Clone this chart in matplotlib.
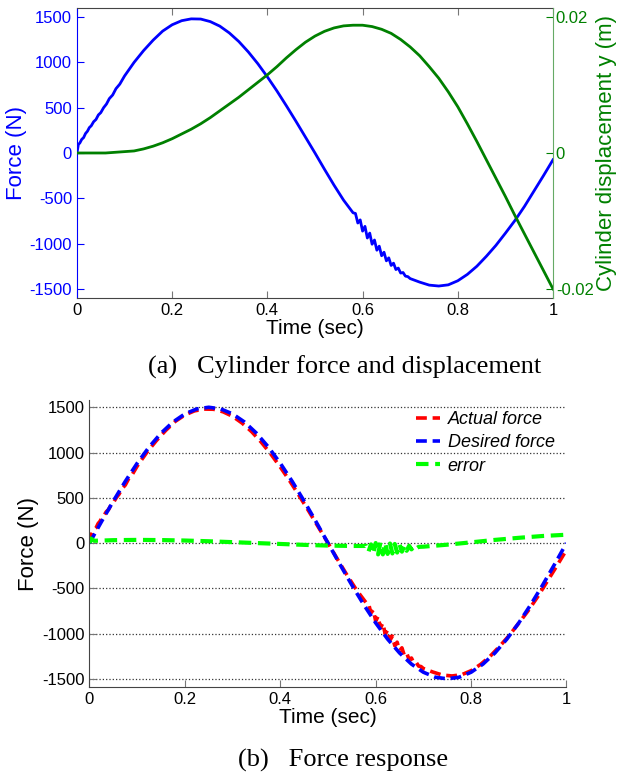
import numpy as np
import matplotlib.pyplot as plt

plt.rcParams['font.family'] = ['Liberation Sans', 'DejaVu Sans']
plt.rcParams['axes.unicode_minus'] = False

# cylinder force (actual force), N
force_t = [0.000, 0.003, 0.006, 0.010, 0.014, 0.018, 0.022, 0.026, 0.030, 0.035,
           0.040, 0.045, 0.050, 0.056, 0.062, 0.068, 0.075, 0.082, 0.090, 0.100,
           0.12, 0.14, 0.16, 0.18, 0.20, 0.22, 0.24, 0.26, 0.28, 0.30,
           0.32, 0.34, 0.36, 0.38, 0.40, 0.42, 0.44, 0.46, 0.48, 0.50,
           0.52, 0.54, 0.56, 0.580, 0.585, 0.590, 0.595, 0.600, 0.605, 0.610,
           0.615, 0.620, 0.625, 0.630, 0.635, 0.640, 0.645, 0.650, 0.655, 0.660,
           0.665, 0.670, 0.675, 0.680, 0.685, 0.690, 0.695, 0.700, 0.72, 0.74,
           0.76, 0.78, 0.80, 0.82, 0.84, 0.86, 0.88, 0.90, 0.92, 0.94,
           0.96, 0.98, 1.00]
force_n = [0, 95, 110, 150, 170, 215, 240, 280, 300, 345,
           370, 420, 445, 500, 540, 600, 640, 710, 760, 850,
           1000, 1130, 1245, 1345, 1415, 1460, 1480, 1478, 1450, 1400,
           1325, 1230, 1115, 985, 840, 685, 520, 350, 175, 0,
           -180, -355, -520, -660, -667, -773, -738, -862, -810, -938,
           -884, -1007, -960, -1073, -1028, -1134, -1095, -1190, -1157, -1241,
           -1216, -1286, -1270, -1325, -1319, -1359, -1364, -1386, -1425, -1458,
           -1468, -1455, -1410, -1340, -1250, -1140, -1020, -885, -745, -590,
           -420, -250, -75]

# cylinder displacement, m
disp_t = [0.00, 0.04, 0.06, 0.08, 0.10, 0.12, 0.14, 0.16, 0.18, 0.20,
          0.22, 0.24, 0.26, 0.28, 0.30, 0.32, 0.34, 0.36, 0.38, 0.40,
          0.42, 0.44, 0.46, 0.48, 0.50, 0.52, 0.54, 0.56, 0.58, 0.60,
          0.62, 0.64, 0.66, 0.68, 0.70, 0.72, 0.74, 0.76, 0.78, 0.80,
          0.82, 0.84, 0.86, 0.88, 0.90, 0.92, 0.94, 0.96, 0.98, 1.00]
disp_m = [0.0, 0.0, 0.0, 0.0001, 0.0002, 0.0003, 0.0006, 0.0010, 0.0015, 0.0021,
          0.0028, 0.0035, 0.0043, 0.0052, 0.0062, 0.0072, 0.0082, 0.0093, 0.0104, 0.0115,
          0.0127, 0.0140, 0.0152, 0.0163, 0.0172, 0.0179, 0.0184, 0.0187, 0.0188, 0.0188,
          0.0186, 0.0182, 0.0176, 0.0167, 0.0156, 0.0143, 0.0127, 0.0110, 0.0090, 0.0068,
          0.0043, 0.0017, -0.0010, -0.0037, -0.0064, -0.0092, -0.0119, -0.0146, -0.0173, -0.0200]

# desired force, N
desired_t = [0.000, 0.025, 0.050, 0.075, 0.100, 0.125, 0.150, 0.175, 0.200, 0.225,
             0.250, 0.275, 0.300, 0.325, 0.350, 0.375, 0.400, 0.425, 0.450, 0.475,
             0.500, 0.525, 0.550, 0.575, 0.600, 0.625, 0.650, 0.675, 0.700, 0.725,
             0.750, 0.775, 0.800, 0.825, 0.850, 0.875, 0.900, 0.925, 0.950, 0.975,
             1.000]
desired_n = [0, 235, 464, 681, 882, 1061, 1214, 1337, 1427, 1482,
             1500, 1482, 1427, 1337, 1214, 1061, 882, 681, 464, 235,
             0, -235, -464, -681, -882, -1061, -1214, -1337, -1427, -1482,
             -1500, -1482, -1427, -1337, -1214, -1061, -882, -681, -464, -235,
             0]

# tracking error, N
error_t = [0.000, 0.003, 0.010, 0.05, 0.10, 0.15, 0.20, 0.25, 0.30, 0.35,
           0.40, 0.45, 0.50, 0.55, 0.575, 0.580, 0.585, 0.590, 0.595, 0.600,
           0.605, 0.610, 0.615, 0.620, 0.625, 0.630, 0.635, 0.640, 0.645, 0.650,
           0.655, 0.660, 0.665, 0.670, 0.675, 0.680, 0.685, 0.690, 0.70, 0.75,
           0.80, 0.85, 0.90, 0.95, 1.00]
error_n = [0, 50, 25, 32, 35, 33, 28, 20, 10, 0,
           -10, -20, -28, -32, -32, -30, -95, -15, -115, 0,
           -125, 5, -125, 0, -120, -5, -115, -10, -105, -15,
           -95, -25, -85, -30, -70, -35, -60, -42, -40, -18,
           8, 35, 58, 78, 92]

x_ticks = [0, 0.2, 0.4, 0.6, 0.8, 1]
x_labels = ['0', '0.2', '0.4', '0.6', '0.8', '1']
force_ticks = [-1500, -1000, -500, 0, 500, 1000, 1500]
disp_ticks = [-0.02, 0, 0.02]
disp_labels = ['-0.02', '0', '0.02']

BLUE = '#0000ff'
DGREEN = '#008000'
SPINE = '#444444'
DASH = (0, (3, 1.6))

fig = plt.figure(figsize=(6.36, 7.76), dpi=100)

# (a) force and displacement
ax1 = fig.add_axes([0.121, 0.616, 0.7485, 0.3737])
ax1.plot(force_t, force_n, color=BLUE, lw=2)
ax1.set_xlim(0, 1)
ax1.set_ylim(-1600, 1600)
ax1.set_xticks(x_ticks)
ax1.set_xticklabels(x_labels)
ax1.set_yticks(force_ticks)
ax1.tick_params(axis='x', direction='in', top=True, length=5, color='#777777',
                labelsize=12, labelcolor='black')
ax1.tick_params(axis='y', direction='in', right=True, length=5, color=BLUE,
                labelsize=12, labelcolor=BLUE)
ax1.set_xlabel('Time (sec)', fontsize=15, labelpad=1)
ax1.set_ylabel('Force (N)', fontsize=16, color=BLUE, labelpad=2)
ax1.spines['left'].set_color(BLUE)
ax1.spines['right'].set_visible(False)
ax1.spines['top'].set_color(SPINE)
ax1.spines['bottom'].set_color(SPINE)

ax2 = ax1.twinx()
ax2.plot(disp_t, disp_m, color=DGREEN, lw=2)
ax2.set_ylim(-0.02 * 1600 / 1500, 0.02 * 1600 / 1500)
ax2.set_yticks(disp_ticks)
ax2.set_yticklabels(disp_labels)
ax2.tick_params(axis='y', direction='in', length=5, color=DGREEN,
                labelsize=12, labelcolor=DGREEN, pad=2)
ax2.set_ylabel('Cylinder displacement y (m)', fontsize=16, color=DGREEN, labelpad=2)
ax2.spines['right'].set_color('#66aa66')
for s in ['left', 'top', 'bottom']:
    ax2.spines[s].set_visible(False)

# (b) force response
ax3 = fig.add_axes([0.1407, 0.1147, 0.75, 0.3698])
ax3.plot(force_t, force_n, color='#ff0000', lw=2.6, ls=DASH, label='Actual force')
ax3.plot(desired_t, desired_n, color=BLUE, lw=2.6, ls=DASH, label='Desired force')
ax3.plot(error_t, error_n, color='#00ff00', lw=3, ls=DASH, label='error')
ax3.set_xlim(0, 1)
ax3.set_ylim(-1590, 1580)
ax3.set_xticks(x_ticks)
ax3.set_xticklabels(x_labels)
ax3.set_yticks(force_ticks)
ax3.yaxis.grid(True, linestyle=':', color='#333333', lw=0.9)
ax3.set_axisbelow(True)
ax3.tick_params(direction='in', length=5, color='#777777', labelsize=12)
ax3.set_xlabel('Time (sec)', fontsize=15, labelpad=1)
ax3.set_ylabel('Force (N)', fontsize=16, labelpad=2)
for s in ['top', 'right']:
    ax3.spines[s].set_visible(False)
for s in ['left', 'bottom']:
    ax3.spines[s].set_color(SPINE)
ax3.legend(loc='upper left', bbox_to_anchor=(0.685, 0.962), frameon=False,
           prop={'style': 'italic', 'size': 13}, handlelength=1.3,
           handletextpad=0.45, labelspacing=0.35, borderaxespad=0, borderpad=0)

fig.text(0.542, 1 - 367 / 776, '(a)   Cylinder force and displacement',
         ha='center', va='center', family=['Liberation Serif', 'DejaVu Serif'], size=19)
fig.text(0.54, 1 - 760 / 776, '(b)   Force response',
         ha='center', va='center', family=['Liberation Serif', 'DejaVu Serif'], size=19)

fig.savefig('out.png', dpi=100)
